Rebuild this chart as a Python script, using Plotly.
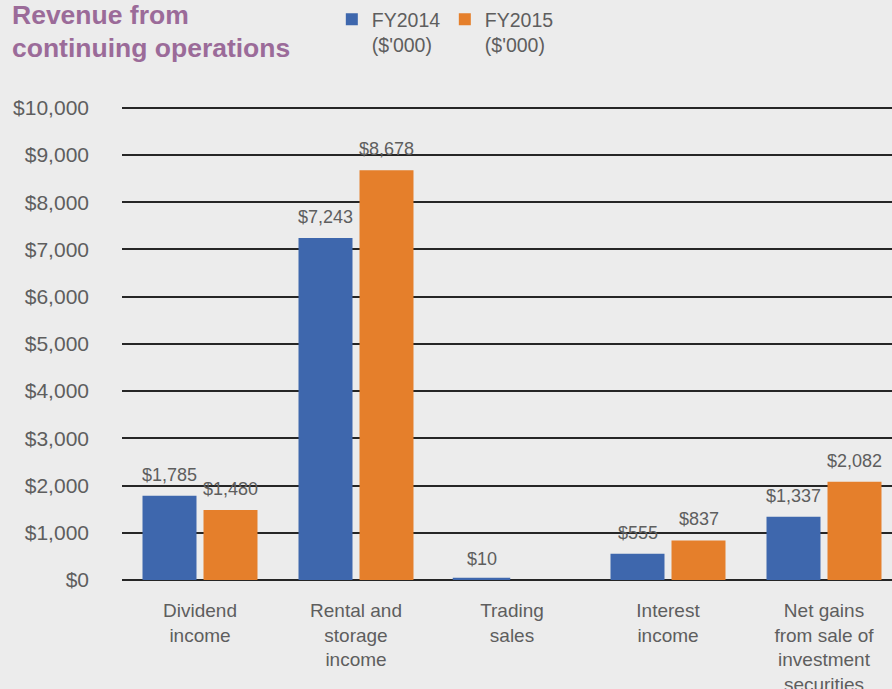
import plotly.graph_objects as go

categories = ["Dividend<br>income", "Rental and<br>storage<br>income", "Trading<br>sales",
              "Interest<br>income", "Net gains<br>from sale of<br>investment<br>securities"]
fy2014 = [1785, 7243, 10, 555, 1337]
fy2015 = [1480, 8678, None, 837, 2082]
fy2014_labels = ["$1,785", "$7,243", "$10", "$555", "$1,337"]
fy2015_labels = ["$1,480", "$8,678", "", "$837", "$2,082"]
tick_vals = [0, 1000, 2000, 3000, 4000, 5000, 6000, 7000, 8000, 9000, 10000]
tick_text = ["$0", "$1,000", "$2,000", "$3,000", "$4,000", "$5,000",
             "$6,000", "$7,000", "$8,000", "$9,000", "$10,000"]

FONT = "Liberation Sans, Arial, Helvetica, sans-serif"
BLUE = "#3e67ad"
ORANGE = "#e57f2b"
GRAY = "#5e5e5e"
TITLE = "#9b6b99"

fig = go.Figure()
fig.add_trace(go.Bar(
    name="FY2014<br>($'000)", x=categories, y=fy2014, marker_color=BLUE,
    marker_line=dict(color=BLUE, width=[0, 0, 3.5, 0, 0]),
))
fig.add_trace(go.Bar(
    name="FY2015<br>($'000)", x=categories, y=fy2015, marker_color=ORANGE,
    marker_line_width=0,
))

annotations = []
for series, labels, shift in ((fy2014, fy2014_labels, -30.5), (fy2015, fy2015_labels, 30.5)):
    for cat, val, lab in zip(categories, series, labels):
        if val is None or not lab:
            continue
        annotations.append(dict(
            x=cat, y=val, text=lab, showarrow=False, xanchor="center", yanchor="bottom",
            xshift=shift, yshift=9, font=dict(family=FONT, size=18, color=GRAY),
        ))

PLOT_W = 770
PLOT_H = 475
TX = (10 - 122) / PLOT_W
TY = 1 + 105 / PLOT_H
annotations += [
    dict(text="<b>Revenue from</b>", xref="paper", yref="paper",
         x=TX, y=TY, xanchor="left", yanchor="top",
         showarrow=False, font=dict(size=26.5, color=TITLE, family=FONT), yshift=2),
    dict(text="<b>continuing operations</b>", xref="paper", yref="paper",
         x=TX, y=TY, xanchor="left", yanchor="top",
         showarrow=False, font=dict(size=26.5, color=TITLE, family=FONT), yshift=-31),
]

fig.update_layout(
    width=892, height=689,
    margin=dict(l=122, r=0, t=105, b=109),
    paper_bgcolor="#ececec", plot_bgcolor="rgba(0,0,0,0)",
    barmode="group", bargap=0.218, bargroupgap=0.115,
    font=dict(family=FONT, color=GRAY),
    showlegend=True,
    legend=dict(
        orientation="h", xref="container", yref="container",
        x=0.372, y=1.0, xanchor="left", yanchor="top",
        valign="top", font=dict(size=19.5, color=GRAY),
        entrywidth=68, entrywidthmode="pixels",
        bgcolor="rgba(0,0,0,0)", traceorder="normal", itemclick=False,
    ),
    annotations=annotations,
)
fig.update_yaxes(
    range=[0, 10060], tickvals=tick_vals, ticktext=tick_text,
    showgrid=True, gridcolor="#262626", gridwidth=1.7,
    zeroline=True, zerolinecolor="#262626", zerolinewidth=1.7,
    showline=False, ticks="", ticklabelstandoff=32, automargin=False,
    tickfont=dict(size=21, color=GRAY, family=FONT),
)
fig.update_xaxes(
    range=[-0.5, -0.5 + PLOT_W / 156], showgrid=False, showline=False, ticks="",
    ticklabelstandoff=17, automargin=False,
    tickfont=dict(size=19, color=GRAY, family=FONT),
)

fig.write_html("out.html")
